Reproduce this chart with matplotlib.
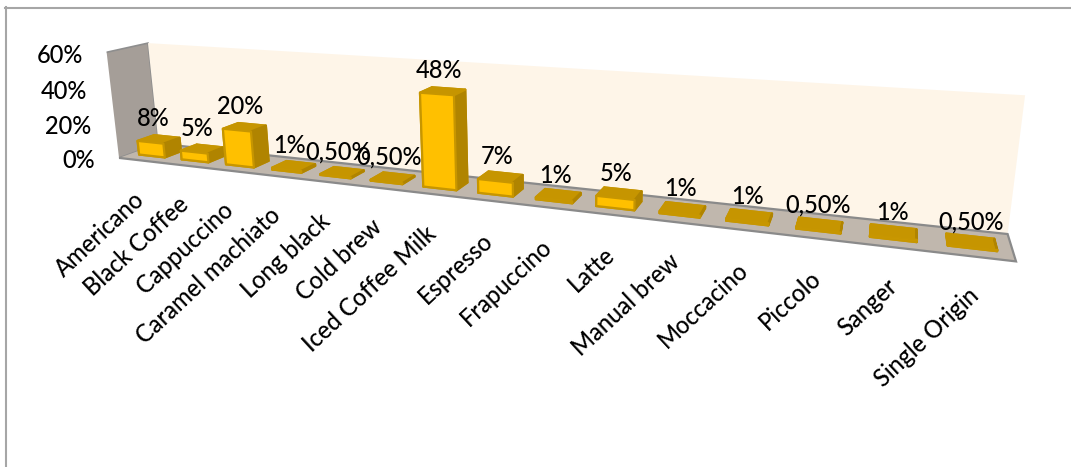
import numpy as np
import matplotlib
matplotlib.use("Agg")
import matplotlib.pyplot as plt
from matplotlib.lines import Line2D
from mpl_toolkits.mplot3d import proj3d

plt.rcParams["font.family"] = ["Lato", "DejaVu Sans"]
plt.rcParams["font.weight"] = "medium"

# -------- DATA --------
drinks = ["Americano", "Black Coffee", "Cappuccino", "Caramel machiato", "Long black",
          "Cold brew", "Iced Coffee Milk", "Espresso", "Frapuccino", "Latte",
          "Manual brew", "Moccacino", "Piccolo", "Sanger", "Single Origin"]
shares = [8, 5, 20, 1, 0.5, 0.5, 48, 7, 1, 5, 1, 1, 0.5, 1, 0.5]
share_labels = ["8%", "5%", "20%", "1%", "0,50%", "0,50%", "48%", "7%", "1%", "5%",
                "1%", "1%", "0,50%", "1%", "0,50%"]
axis_ticks = [0, 20, 40, 60]

FONT = 17
W, H = 1071, 467
fig = plt.figure(figsize=(W / 100, H / 100), dpi=100)

# camera and box settings for the long perspective view
size, cx, cy = 178.1, 497.4, 134.0
ax = fig.add_axes([(cx - size / 2) / W, (H - cy - size / 2) / H, size / W, size / H],
                  projection="3d")
ax.patch.set_visible(False)
ax.set_proj_type("persp")
ax.view_init(elev=14.505, azim=-68.009, roll=0.81)
box = np.array([9.621, 0.692, 1.287])
ax.set_box_aspect(box, zoom=np.linalg.norm(box) / (1.8294640721620434 * 25 / 24))
ax.set_xlim(0, len(drinks), view_margin=0)
ax.set_ylim(0, 1, view_margin=0)
ax.set_zlim(0, axis_ticks[-1], view_margin=0)

# walls and floor
ax.grid(False)
ax.set_xticks([])
ax.set_yticks([])
ax.set_zticks([])
for axis, face, edge, lw in [(ax.xaxis, "#A59E98", "#8E8E8E", 1.2),
                             (ax.yaxis, "#FEF5E8", "none", 0),
                             (ax.zaxis, "#C0B7AD", "#8A8A8A", 1.6)]:
    axis.line.set_color("none")
    axis.pane.set_facecolor(face)
    axis.pane.set_edgecolor(edge)
    axis.pane.set_linewidth(lw)
    axis.pane.set_alpha(1)
    axis.pane.set_clip_on(False)

# bars: one colour per face (bottom, top, front, back, left, right)
gap, depth = 0.196, 0.291
n = len(drinks)
x = np.arange(n) + gap
face_colors = ["#C79600", "#C69500", "#FFC000", "#C69500", "#C69500", "#B08400"] * n
edge_colors = ["#C79600", "#C69500", "#C79600", "#C69500", "#C69500", "#B08400"] * n
bars = ax.bar3d(x, np.full(n, depth), np.zeros(n), np.full(n, 1 - 2 * gap),
                np.full(n, 1 - 2 * depth), shares, color=face_colors, shade=False,
                edgecolor=edge_colors, linewidth=1.6)
bars.set_clip_on(False)


def label(px, py, pz, text, dx, dy, **kw):
    # text placed a few pixels away from a point of the 3D box
    tx, ty, _ = proj3d.proj_transform(px, py, pz, ax.get_proj())
    ax.annotate(text, (tx, ty), xytext=(dx, dy), textcoords="offset pixels",
                annotation_clip=False, fontsize=FONT, color="black", zorder=1000, **kw)


# value labels above the bars
for i, (v, s) in enumerate(zip(shares, share_labels)):
    label(i + 0.5, 0.4, v, s, -1, 22, ha="center", va="center")

# category labels under the floor
for i, name in enumerate(drinks):
    label(i + 0.5, 0, 0, name, 1, -36, rotation=43, rotation_mode="anchor",
          ha="right", va="center")

# axis tick labels beside the left wall
for t in axis_ticks:
    label(0, 0, t, f"{t}%", -24, -3, ha="right", va="center")

# chart area outline (left and top only)
for xs, ys in [((6 / W, 6 / W), (0, 1 - 7 / H)), ((5 / W, 1), (1 - 7.5 / H, 1 - 7.5 / H))]:
    fig.add_artist(Line2D(xs, ys, color="#A6A6A6", lw=1.5))

fig.savefig("out.png", dpi=100)
